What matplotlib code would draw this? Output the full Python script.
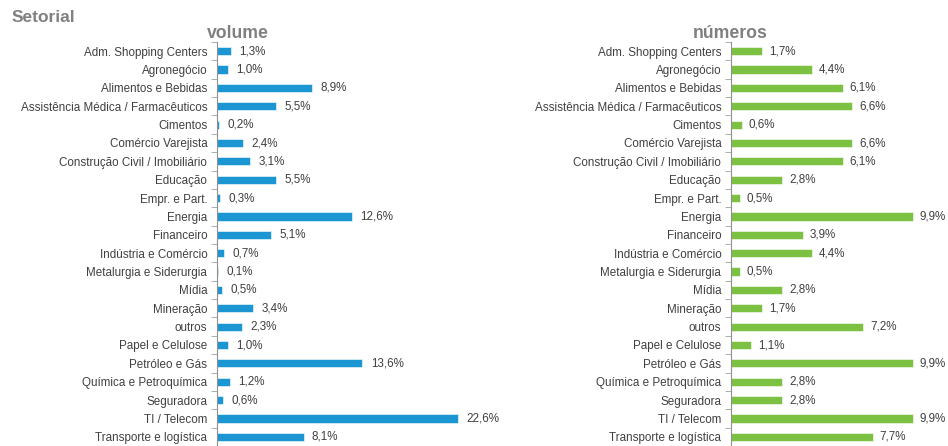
import matplotlib.pyplot as plt
import numpy as np

plt.rcParams['font.family'] = ['Liberation Sans', 'DejaVu Sans']

setores = ['Adm. Shopping Centers', 'Agronegócio', 'Alimentos e Bebidas',
           'Assistência Médica / Farmacêuticos', 'Cimentos', 'Comércio Varejista',
           'Construção Civil / Imobiliário', 'Educação', 'Empr. e Part.', 'Energia',
           'Financeiro', 'Indústria e Comércio', 'Metalurgia e Siderurgia', 'Mídia',
           'Mineração', 'outros', 'Papel e Celulose', 'Petróleo e Gás',
           'Química e Petroquímica', 'Seguradora', 'TI / Telecom',
           'Transporte e logística']
volume = [1.3, 1.0, 8.9, 5.5, 0.2, 2.4, 3.1, 5.5, 0.3, 12.6, 5.1, 0.7, 0.1, 0.5,
          3.4, 2.3, 1.0, 13.6, 1.2, 0.6, 22.6, 8.1]
numeros = [1.7, 4.4, 6.1, 6.6, 0.6, 6.6, 6.1, 2.8, 0.5, 9.9, 3.9, 4.4, 0.5, 2.8,
           1.7, 7.2, 1.1, 9.9, 2.8, 2.8, 9.9, 7.7]

W, H = 948, 446
fig = plt.figure(figsize=(W / 100, H / 100), dpi=100)

def painel(x0, x1, vals, xmax, cor, titulo, tx):
    ax = fig.add_axes([x0 / W, 0, (x1 - x0) / W, 1 - 42 / H])
    y = np.arange(len(setores))
    ax.barh(y, vals, height=0.45, color=cor, edgecolor='#ffffff', linewidth=0.4)
    ax.set_ylim(len(setores) - 0.5, -0.5)
    ax.set_xlim(0, xmax)
    ax.set_yticks(y)
    ax.set_yticklabels(setores, fontsize=8.4, color='#404040')
    ax.set_yticks(np.arange(-0.5, len(setores)), minor=True)
    ax.tick_params(axis='y', which='major', length=0, pad=7)
    ax.tick_params(axis='y', which='minor', length=4, color='#a0a0a0', direction='out')
    ax.set_xticks([])
    for s in ['top', 'right', 'bottom']:
        ax.spines[s].set_visible(False)
    ax.spines['left'].set_color('#909090')
    for yi, v in zip(y, vals):
        ax.text(v + xmax * 0.03, yi, f'{v:.1f}%'.replace('.', ','), va='center',
                ha='left', fontsize=8.4, color='#404040')
    fig.text(tx / W, 1 - 33 / H, titulo, ha='center', va='center', fontsize=12.7,
             fontweight='bold', color='#808080')

painel(217, 500, volume, 26.5, '#1b96d3', 'volume', 238)
painel(731, 948, numeros, 11.8, '#7cc142', 'números', 730)

fig.text(12 / W, 1 - 17 / H, 'Setorial', ha='left', va='center', fontsize=12.5,
         fontweight='bold', color='#808080')

fig.savefig('out.png', dpi=100)
